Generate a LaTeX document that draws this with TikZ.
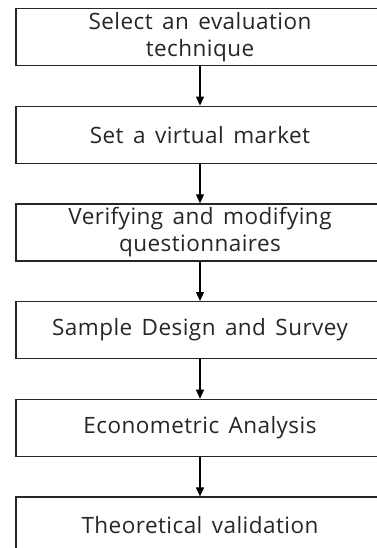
\documentclass[tikz,border=0pt]{standalone}
\usepackage{fontspec}
\setmainfont{Open Sans}[LetterSpace=2,WordSpace=1.5]
\usepackage{tikz}
\usetikzlibrary{arrows.meta,positioning}

\begin{document}
\begin{tikzpicture}[x=1pt,y=1pt,font=\fontsize{22.5}{27}\selectfont,
  stage/.style={draw=black!85,line width=1.2pt,minimum width=368pt,
    minimum height=57pt,align=center,inner sep=1pt,text=black!85},
  node distance=39.5pt]
\useasboundingbox (0,0) rectangle (376,-548);
% process steps, top to bottom
\node[stage] (tech) at (200,-37) {Select an evaluation\\technique};
\node[stage,below=of tech] (market) {Set a virtual market};
\node[stage,below=of market] (quest) {Verifying and modifying\\questionnaires};
\node[stage,below=of quest] (survey) {Sample Design and Survey};
\node[stage,below=of survey] (econ) {Econometric Analysis};
\node[stage,below=of econ] (valid) {Theoretical validation};
\foreach \a/\b in {tech/market,market/quest,quest/survey,survey/econ,econ/valid}
  \draw[-{Triangle[width=8pt,length=9pt]},line width=1.1pt] (\a) -- (\b);
\end{tikzpicture}
\end{document}
